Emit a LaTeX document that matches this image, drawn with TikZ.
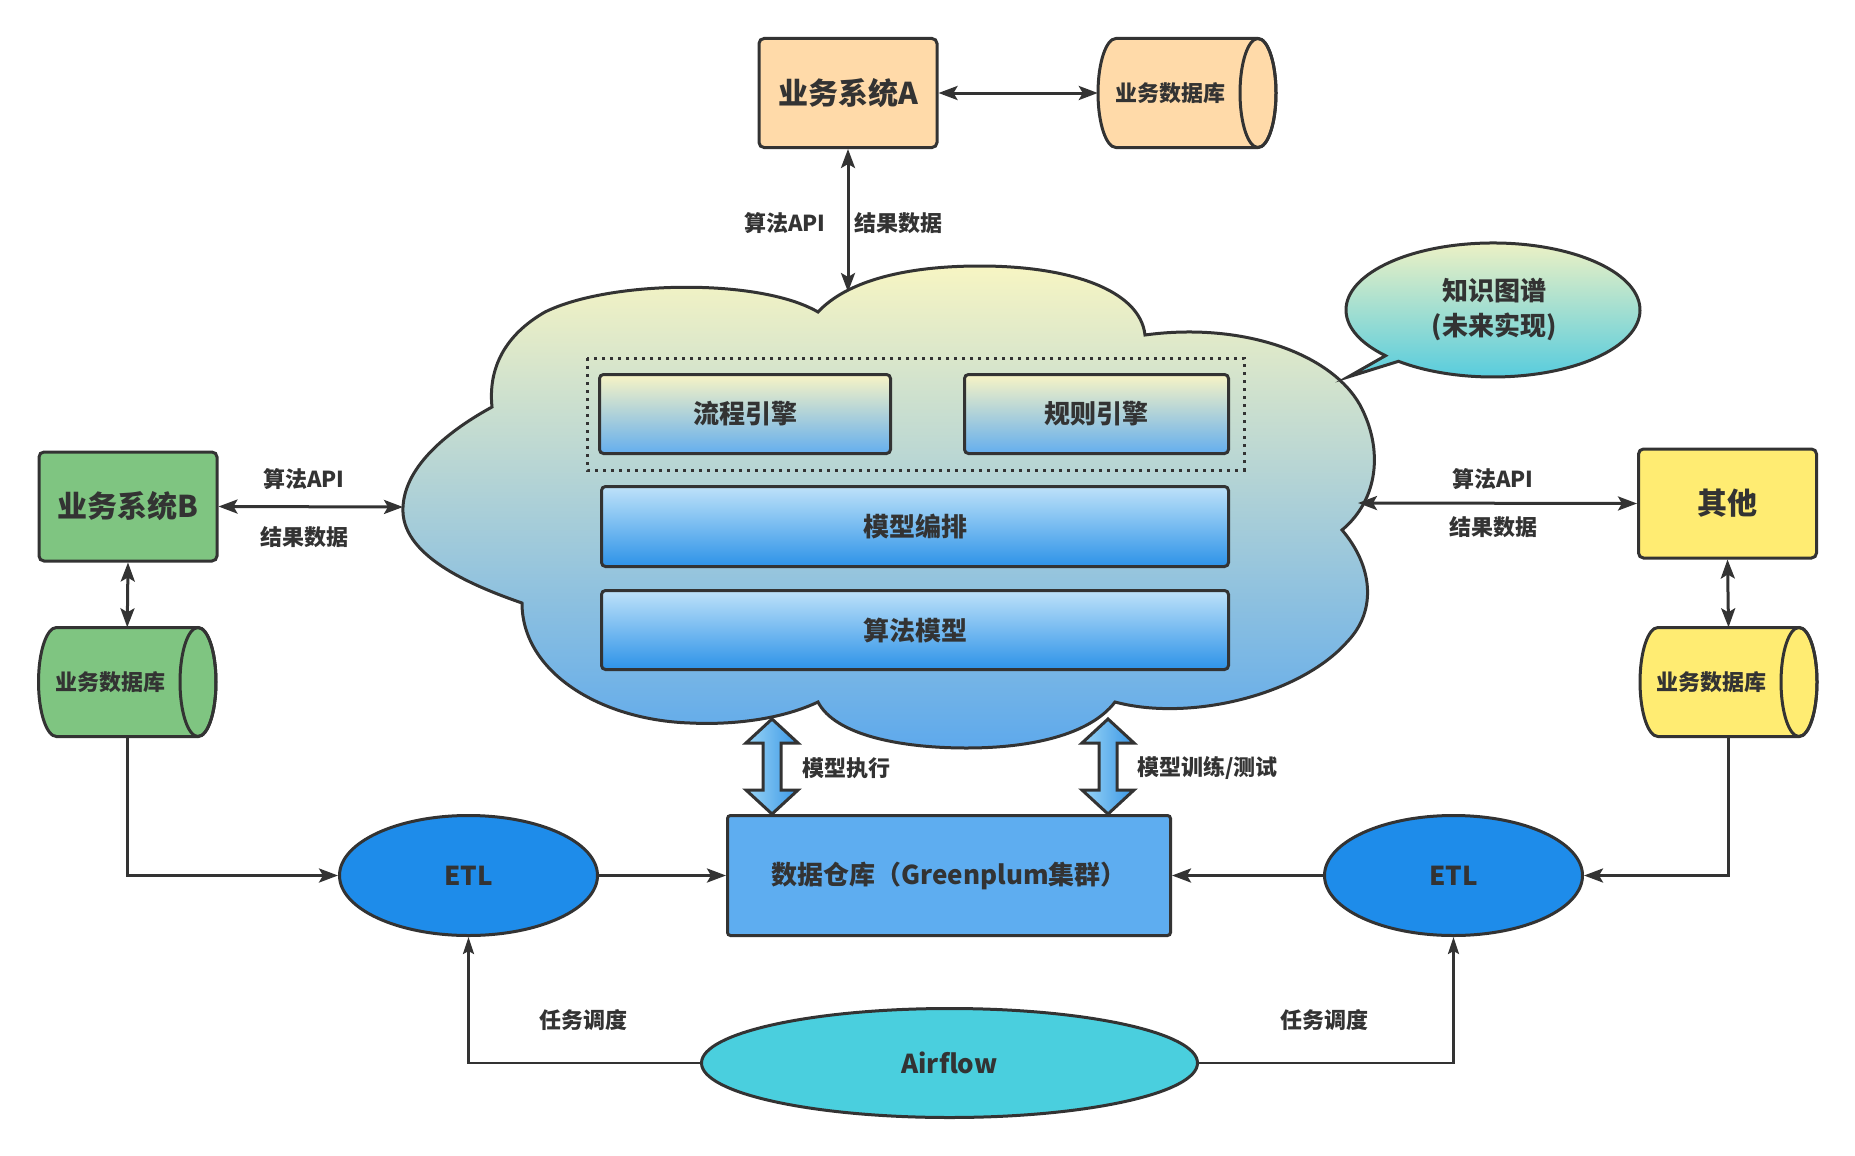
\documentclass[tikz,border=0pt]{standalone}
\usepackage{fontspec}
\setmainfont{Noto Sans CJK SC}
\usetikzlibrary{arrows.meta,shapes.geometric,calc}
\definecolor{ln}{HTML}{333333}
\definecolor{txt}{HTML}{333333}
\definecolor{cA}{HTML}{FFDAA9}
\definecolor{cB}{HTML}{7FC581}
\definecolor{cC}{HTML}{FFEC72}
\definecolor{cWh}{HTML}{5EADF0}
\definecolor{cEtl}{HTML}{1E8CEA}
\definecolor{cAir}{HTML}{4ACFDE}
\definecolor{cloudTop}{HTML}{F7F5C3}
\definecolor{cloudBot}{HTML}{5EA9EC}
\definecolor{engTop}{HTML}{F8F4C5}
\definecolor{engBot}{HTML}{64AEEE}
\definecolor{modTop}{HTML}{BEE2F9}
\definecolor{modBot}{HTML}{2D92E8}
\definecolor{kgTop}{HTML}{F5F3C3}
\definecolor{kgBot}{HTML}{4FCADF}
\definecolor{faL}{HTML}{9AD5F6}
\definecolor{faR}{HTML}{3A97E6}
\newcommand\dbcyl[7]{%
  \pgfmathsetmacro\cyLa{#2+18}%
  \pgfmathsetmacro\cyRa{#4-18}%
  \pgfmathsetmacro\cyRy{(#5-#3)/2}%
  \pgfmathsetmacro\cyMid{(#5+#3)/2}%
  \pgfmathsetmacro\cyCx{(#2+#4)/2}%
  \pgfmathsetmacro\cyW{#4-#2}%
  \pgfmathsetmacro\cyH{#5-#3}%
  \filldraw[cylline, fill=#6] (\cyRa,#3) -- (\cyLa,#3) arc[start angle=90,end angle=270,x radius=18pt,y radius=\cyRy pt] -- (\cyRa,#5) arc[start angle=-90,end angle=90,x radius=18pt,y radius=\cyRy pt] -- cycle;
  \draw[cylline] (\cyRa,\cyMid) ellipse[x radius=18pt,y radius=\cyRy pt];
  \node[inner sep=0,minimum width=\cyW pt,minimum height=\cyH pt] (#1) at (\cyCx,\cyMid) {};
  \node[dbtext] at (\cyCx-17,\cyMid) {#7};
}
\begin{document}
\begin{tikzpicture}[x=1pt,y=-1pt,
  >={Stealth[length=19pt,width=14pt,inset=4pt]},
  conn/.style={draw=ln,line width=3pt},
  thinconn/.style={draw=ln,line width=2.5pt,>={Stealth[length=17pt,width=11pt,inset=3pt]}},
  sysbox/.style={draw=ln,line width=3pt,rounded corners=5pt,inner sep=0,minimum width=178pt,minimum height=109pt,font=\bfseries\fontsize{30}{36}\selectfont,text=txt},
  engbox/.style={draw=ln,line width=3pt,rounded corners=4pt,inner sep=0,font=\bfseries\fontsize{26}{30}\selectfont,text=txt},
  cylline/.style={draw=ln,line width=3pt},
  dbtext/.style={font=\bfseries\fontsize{22}{26}\selectfont,text=txt,inner sep=0},
  lbl/.style={font=\bfseries\fontsize{22}{26}\selectfont,text=txt,inner sep=1pt},
  ellnode/.style={ellipse,draw=ln,line width=3pt,inner sep=0,font=\bfseries\fontsize{26}{30}\selectfont,text=txt},
  fatarrow/.style={draw=ln,line width=3pt,line join=miter,left color=faL,right color=faR}
]
\useasboundingbox (0,0) rectangle (1855,1156);
\fill[white] (0,0) rectangle (1855,1156);

% ---------- cloud ----------
\path[draw=ln,line width=3pt,top color=cloudTop,bottom color=cloudBot]
  (818,312) .. controls (845,283) and (900,266) .. (980,266)
  .. controls (1070,266) and (1140,290) .. (1145,335)
  .. controls (1240,322) and (1330,352) .. (1360,405)
  .. controls (1384,450) and (1378,500) .. (1342,530)
  .. controls (1372,565) and (1378,610) .. (1347,642)
  .. controls (1300,695) and (1190,722) .. (1115,702)
  .. controls (1090,735) and (1030,748) .. (967,748)
  .. controls (900,748) and (835,735) .. (818,702)
  .. controls (780,720) and (730,725) .. (690,723)
  .. controls (600,720) and (522,672) .. (522,603)
  .. controls (470,585) and (400,555) .. (403,507)
  .. controls (405,465) and (450,430) .. (492,407)
  .. controls (488,368) and (505,335) .. (545,312)
  .. controls (610,280) and (760,278) .. (818,312) -- cycle;
\coordinate (cAtop) at (848,292);
\coordinate (cBleft) at (403,507);
\coordinate (cCright) at (1358,503);

% dotted group
\draw[ln,line width=3pt,dash pattern=on 3pt off 5pt] (587,358) rectangle (1244,470);
\node[engbox,top color=engTop,bottom color=engBot,minimum width=291pt,minimum height=79pt] (flow) at (745,414) {流程引擎};
\node[engbox,top color=engTop,bottom color=engBot,minimum width=264pt,minimum height=79pt] (rule) at (1096.5,414) {规则引擎};
\node[engbox,top color=modTop,bottom color=modBot,minimum width=627pt,minimum height=80pt] (orch) at (915,526.5) {模型编排};
\node[engbox,top color=modTop,bottom color=modBot,minimum width=627pt,minimum height=79pt] (algo) at (915,630) {算法模型};

% ---------- knowledge bubble ----------
\path[draw=ln,line width=3pt,top color=kgTop,bottom color=kgBot,line join=miter]
  (1398.5,361.3) arc[start angle=230,end angle=583,x radius=147pt,y radius=67pt] -- (1348,377) -- cycle;
\node[font=\bfseries\fontsize{26}{35}\selectfont,text=txt,align=center,inner sep=0] (kg) at (1494,309) {知识图谱\\(未来实现)};

% ---------- systems ----------
\node[sysbox,fill=cA] (sysA) at (848,93) {业务系统A};
\node[sysbox,fill=cB] (sysB) at (128,506.5) {业务系统B};
\node[sysbox,fill=cC] (other) at (1727.5,503.5) {其他};

\dbcyl{dbA}{1098}{38.5}{1276}{147.5}{cA}{业务数据库}
\dbcyl{dbB}{38.5}{627.5}{216}{736.5}{cB}{业务数据库}
\dbcyl{dbC}{1640}{627.5}{1817}{736.5}{cC}{业务数据库}

% ---------- bottom nodes ----------
\node[draw=ln,line width=3pt,rounded corners=3pt,fill=cWh,inner sep=0,minimum width=443pt,minimum height=120pt,font=\bfseries\fontsize{26}{30}\selectfont,text=txt] (wh) at (949,875.5) {数据仓库（Greenplum集群）};
\node[ellnode,fill=cEtl,minimum width=258pt,minimum height=120pt] (etlL) at (468.5,875.5) {ETL};
\node[ellnode,fill=cEtl,minimum width=258pt,minimum height=120pt] (etlR) at (1453.5,875.5) {ETL};
\node[ellnode,fill=cAir,minimum width=496pt,minimum height=109pt] (air) at (949.5,1063) {Airflow};

% ---------- connectors ----------
\draw[conn,<->] (sysA.east) -- (dbA.west);
\draw[conn,<->] (sysA.south) -- (cAtop);
\node[lbl] at (785,223) {算法API};
\node[lbl] at (898,223) {结果数据};

\draw[conn,<->] (sysB.east) -- (cBleft);
\node[lbl] at (304,479) {算法API};
\node[lbl] at (304,537) {结果数据};
\draw[conn,<->] (sysB.south) -- (dbB.north);

\draw[conn,<->] (cCright) -- (other.west);
\node[lbl] at (1493,479) {算法API};
\node[lbl] at (1493,527) {结果数据};
\draw[conn,<->] (other.south) -- (dbC.north);

\draw[conn,->] (dbB.south) |- (etlL.west);
\draw[conn,->] (dbC.south) |- (etlR.east);
\draw[conn,->] (etlL.east) -- (wh.west);
\draw[conn,->] (etlR.west) -- (wh.east);

\draw[thinconn,->] (air.west) -| (etlL.south);
\draw[thinconn,->] (air.east) -| (etlR.south);
\node[lbl] at (583,1020) {任务调度};
\node[lbl] at (1324,1020) {任务调度};

% fat double arrows
\path[fatarrow] (772,719) -- ++(26,24) -- ++(-17,0) -- ++(0,47) -- ++(17,0) -- ++(-26,24) -- ++(-26,-24) -- ++(17,0) -- ++(0,-47) -- ++(-17,0) -- cycle;
\path[fatarrow] (1108,719) -- ++(26,24) -- ++(-17,0) -- ++(0,47) -- ++(17,0) -- ++(-26,24) -- ++(-26,-24) -- ++(17,0) -- ++(0,-47) -- ++(-17,0) -- cycle;
\node[lbl,anchor=west] at (801,768) {模型执行};
\node[lbl,anchor=west] at (1136,768) {模型训练/测试};
\end{tikzpicture}
\end{document}
